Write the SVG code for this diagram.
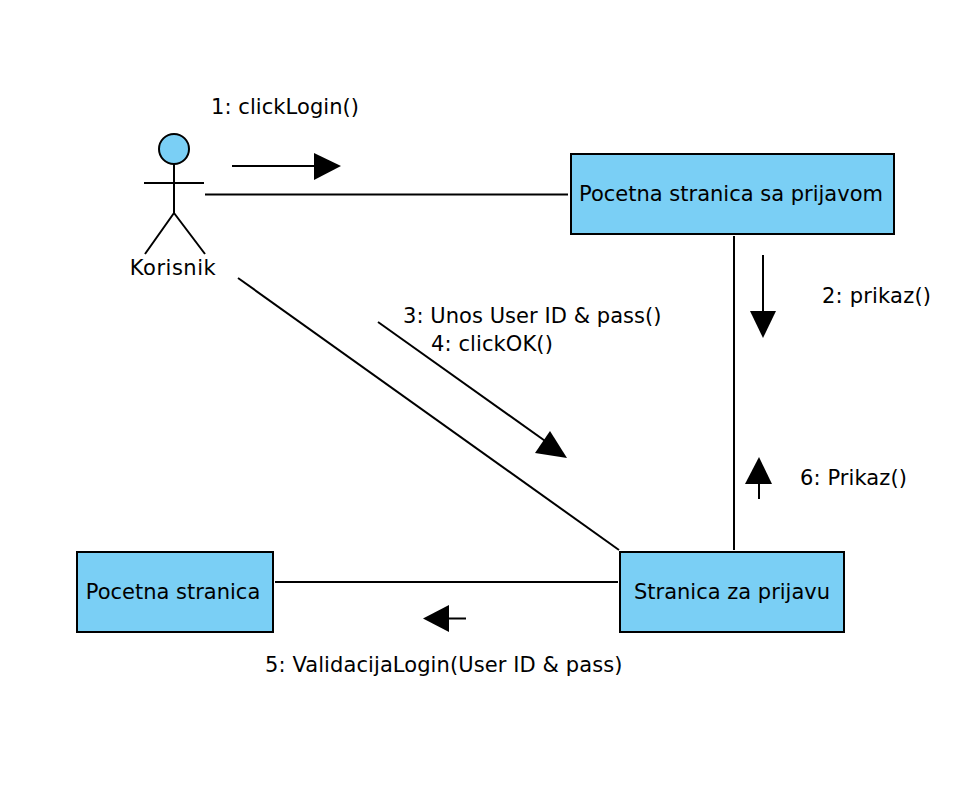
<svg xmlns="http://www.w3.org/2000/svg" width="968" height="804" viewBox="0 0 968 804">
<style>
text{font-family:"DejaVu Sans","Noto Sans",sans-serif;font-size:21px;fill:#000}
.n{fill:#7acff5;stroke:#000;stroke-width:2}
.l{fill:none;stroke:#000;stroke-width:2}
.a{fill:#000;stroke:none}
</style>
<rect width="968" height="804" fill="#fff"/>
<g id="connectors">
<path class="l" d="M205 194.500H568"/>
<path class="l" d="M734 236V550"/>
<path class="l" d="M238 278L619 550"/>
<path class="l" d="M275 582H618"/>
<path class="l" d="M232 166H315"/><polygon class="a" points="314,153 341,166 314,180"/>
<path class="l" d="M763 255V312"/><polygon class="a" points="750,311 776,311 763,338"/>
<path class="l" d="M378 322L548 443"/><polygon class="a" points="550,431 567,458 535,453"/>
<path class="l" d="M759 499V483"/><polygon class="a" points="745,484 772,484 759,457"/>
<path class="l" d="M466 618.500H449"/><polygon class="a" points="449,605 449,632 423,618.500"/>
</g>
<g id="actor">
<circle class="n" cx="174" cy="149" r="15"/>
<path class="l" d="M174 164V213M144 183H204M174 213L145 254M174 213L205 254"/>
<text x="173" y="275" text-anchor="middle" letter-spacing="0.5">Korisnik</text>
</g>
<g id="node-pocetna-prijava"><rect class="n" x="571" y="154" width="323" height="80"/><text x="731" y="201" text-anchor="middle">Pocetna stranica sa prijavom</text></g>
<g id="node-prijava"><rect class="n" x="620" y="552" width="224" height="80"/><text x="732" y="599" text-anchor="middle">Stranica za prijavu</text></g>
<g id="node-pocetna"><rect class="n" x="77" y="552" width="196" height="80"/><text x="173" y="599" text-anchor="middle">Pocetna stranica</text></g>
<g id="labels">
<text x="211" y="114" letter-spacing="0.07">1: clickLogin()</text>
<text x="822" y="303" letter-spacing="0.2">2: prikaz()</text>
<text x="403" y="323" letter-spacing="0.05">3: Unos User ID &amp; pass()</text>
<text x="431" y="351" letter-spacing="0.1">4: clickOK()</text>
<text x="800" y="485" letter-spacing="0.1">6: Prikaz()</text>
<text x="265" y="672" letter-spacing="0.09">5: ValidacijaLogin(User ID &amp; pass)</text>
</g>
</svg>
